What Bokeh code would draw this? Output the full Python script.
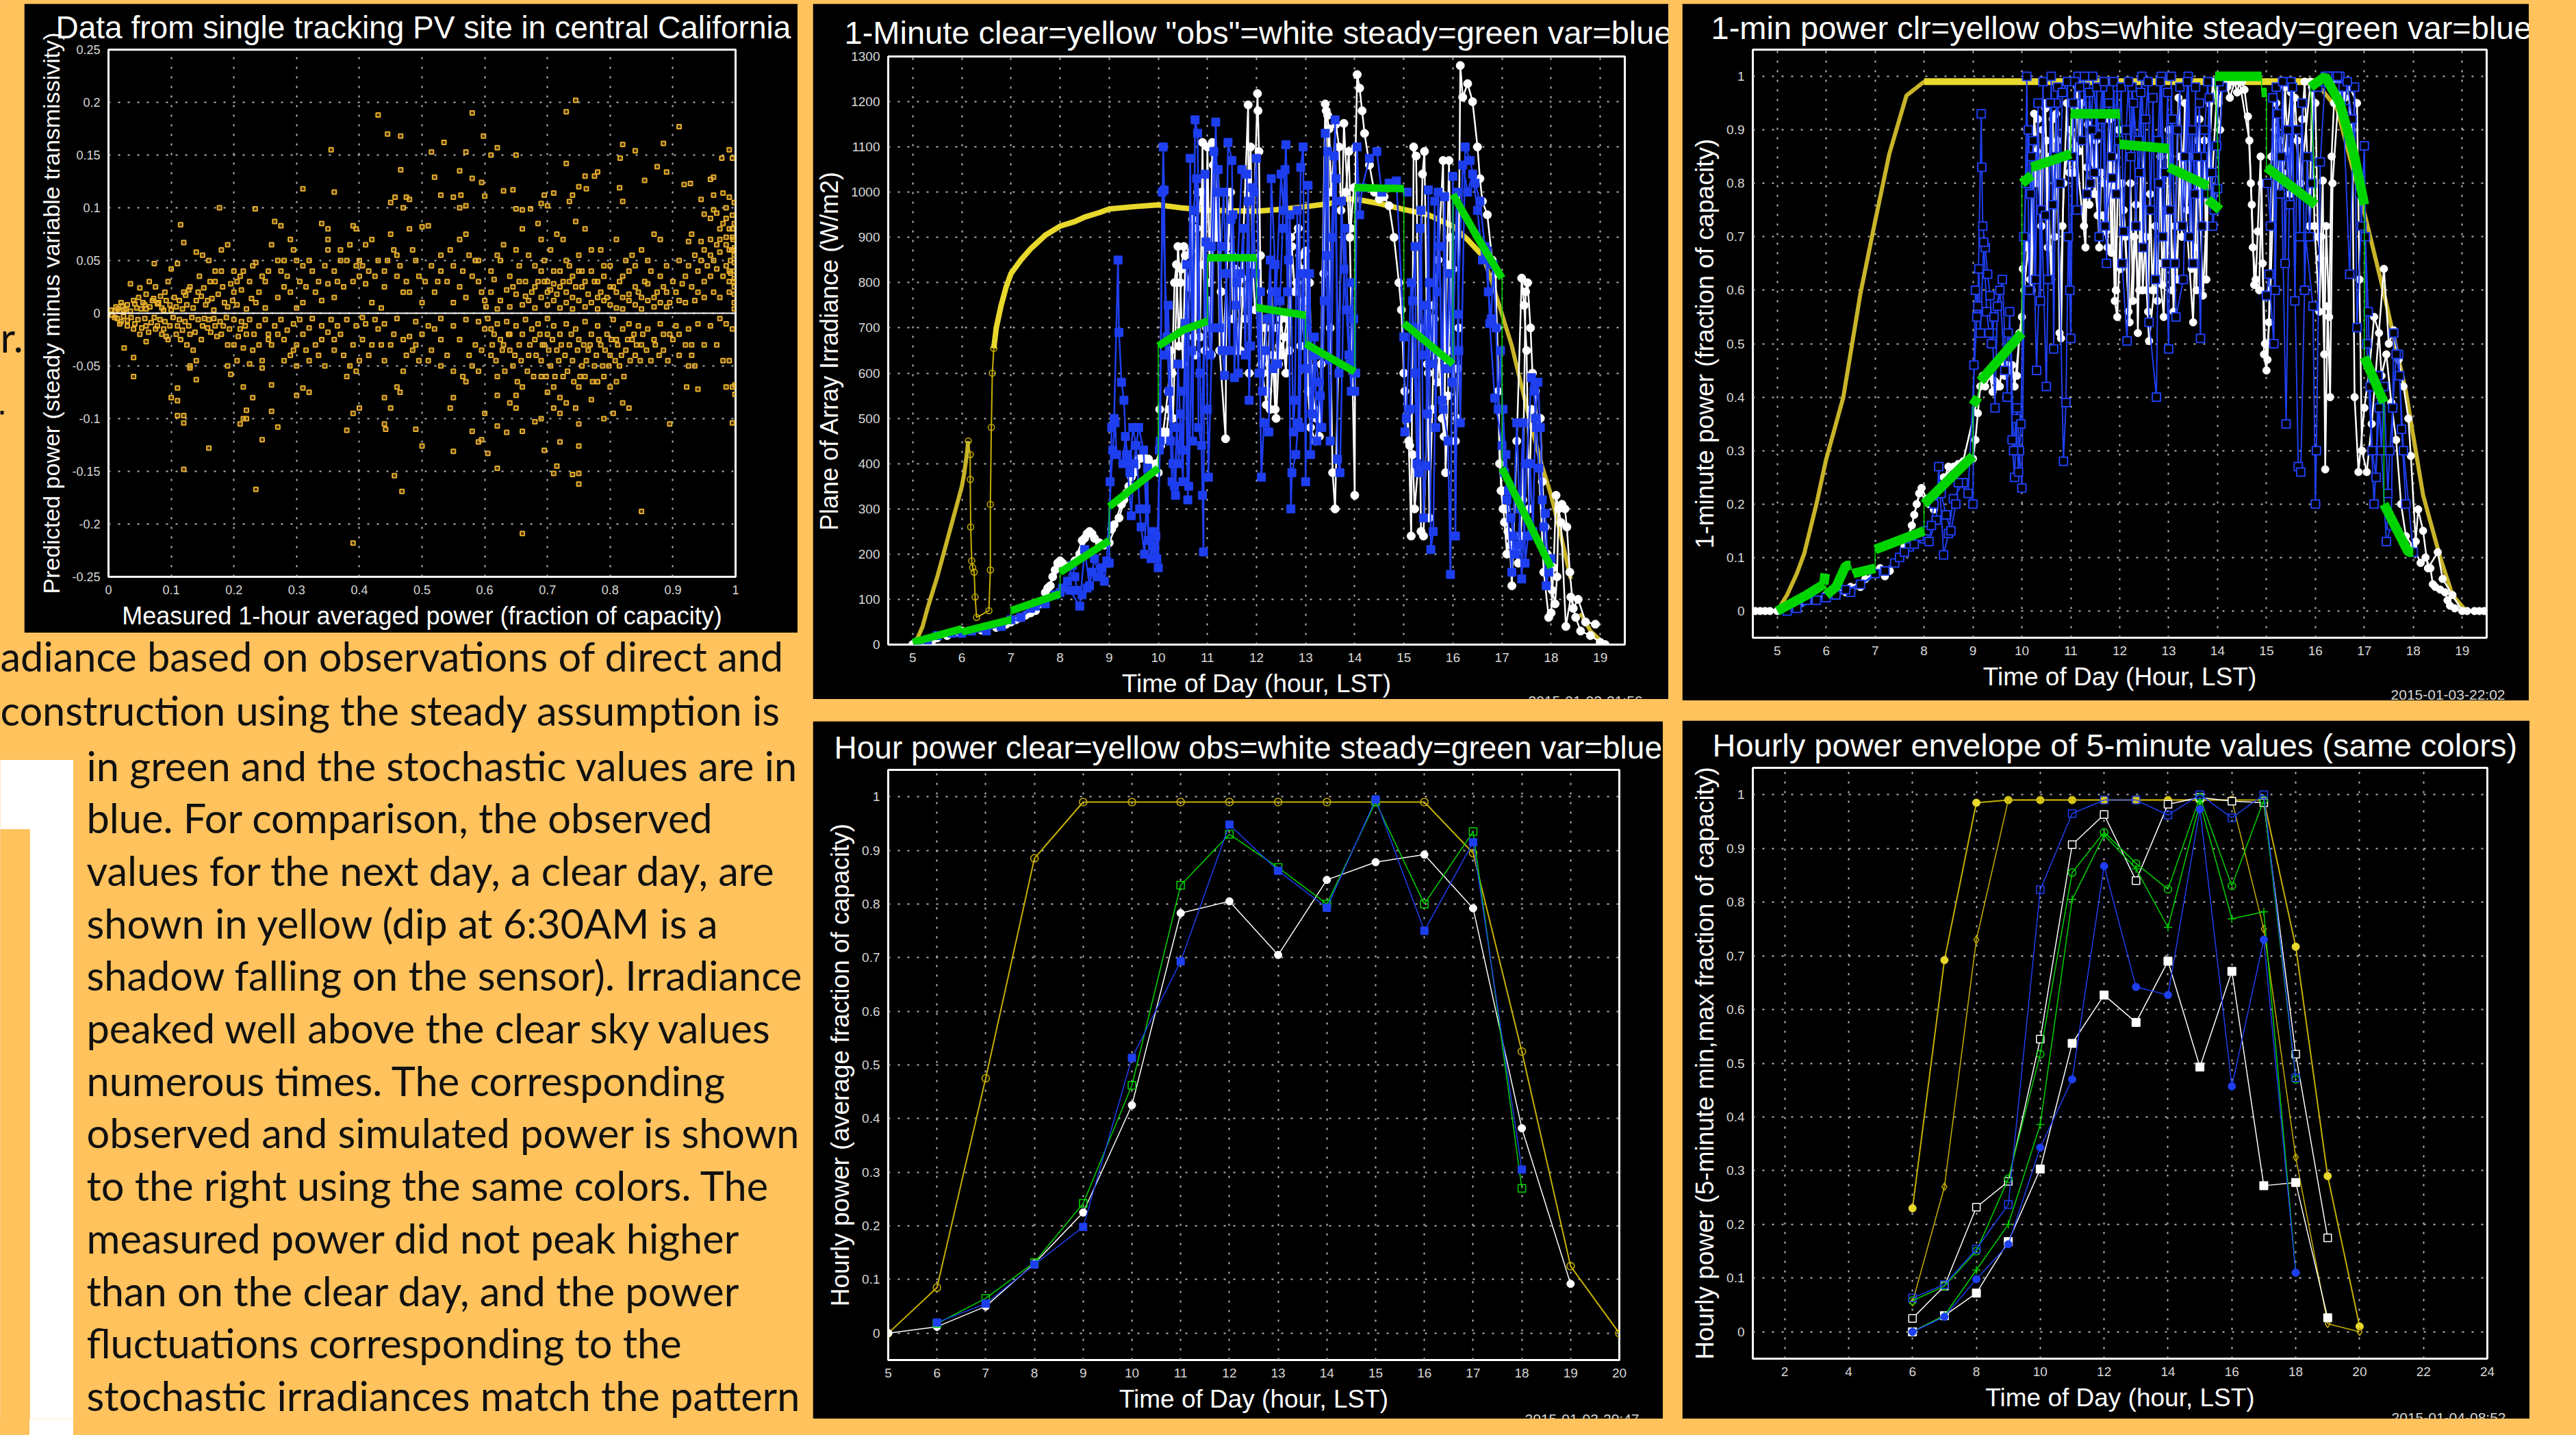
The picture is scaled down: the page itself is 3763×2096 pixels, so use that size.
from bokeh.plotting import figure
from bokeh.layouts import row, column
from bokeh.models import Range1d, FixedTicker, Span, Title
from bokeh.embed import file_html
from bokeh.resources import INLINE
from bokeh.core.properties import value

nan = float("nan")
BG = "#FFC25D"
BLUE = "#1E3FF0"
GREEN = "#00D400"
YEL = "#E8D82C"
YEL2 = "#C8B000"
YEL3 = "#C8B428"
AMB = "#E8AE2C"

# Panel 1 : scatter (measured, steady minus variable)
scatter_pts = [
(0.43,0.188),(0.445,0.17),(0.466,0.168),(0.58,0.19),(0.598,0.168),(0.62,0.157),(0.65,0.15),(0.61,0.15),(0.57,0.153),(0.73,0.191),(0.745,0.202),(0.91,0.177),(0.82,0.16),(0.84,0.154),(0.885,0.161),(0.535,0.162),(0.515,0.153),(0.355,0.155),(0.978,0.147),(0.99,0.155),(0.995,0.147),(0.816,0.147),(0.73,0.142),(0.466,0.136),(0.52,0.129),(0.56,0.135),(0.58,0.128),(0.595,0.124),(0.76,0.13),(0.775,0.13),(0.78,0.134),(0.875,0.139),(0.89,0.134),(0.855,0.126),(0.918,0.122),(0.928,0.123),(0.96,0.127),(0.965,0.129),(0.31,0.118),(0.36,0.115),(0.47,0.1),(0.45,0.105),(0.457,0.11),(0.475,0.11),(0.48,0.108),(0.53,0.112),(0.55,0.11),(0.56,0.1),(0.562,0.112),(0.57,0.102),(0.6,0.111),(0.63,0.116),(0.645,0.117),(0.69,0.104),(0.695,0.112),(0.7,0.102),(0.71,0.114),(0.735,0.106),(0.74,0.112),(0.75,0.12),(0.762,0.118),(0.815,0.119),(0.82,0.106),(0.177,0.1),(0.234,0.099),(0.65,0.099),(0.66,0.098),(0.673,0.099),
(0.98,0.114),(0.965,0.112),(0.945,0.108),(0.99,0.11),(0.998,0.105),(0.985,0.1),(0.965,0.098),(0.95,0.094),(0.96,0.09),(0.97,0.095),(0.985,0.09),(0.995,0.093),(0.99,0.08),(0.998,0.085),(0.975,0.08),(0.96,0.07),(0.945,0.068),(0.93,0.075),(0.925,0.068),(0.97,0.065),(0.985,0.072),(0.995,0.072),(0.95,0.06),(0.96,0.055),(0.975,0.058),(0.99,0.06),(0.998,0.062),(0.998,0.055),(0.998,0.048),(0.998,0.04),(0.998,0.033),(0.998,0.025),(0.998,0.018),(0.998,0.01),(0.998,0.004),(0.992,0.05),(0.992,0.038),(0.99,0.03),(0.99,0.02),(0.985,0.045),(0.98,0.035),(0.97,0.042),(0.96,0.035),(0.95,0.03),(0.94,0.04),(0.93,0.025),(0.92,0.035),(0.91,0.05),(0.965,0.02),(0.975,0.015),(0.95,0.015),(0.935,0.012),(0.92,0.01),(0.905,0.02),(0.985,-0.01),(0.975,-0.005),(0.96,-0.012),(0.94,-0.01),(0.925,-0.015),(0.905,-0.012),(0.995,-0.015),(0.97,-0.03),(0.98,-0.045),(0.99,-0.045),(0.995,-0.07),(0.999,-0.068),(0.999,-0.077),(0.985,-0.07),(0.925,-0.05),(0.935,-0.05),(0.922,-0.07),(0.94,-0.072),(0.91,-0.04),(0.95,-0.03),(0.93,-0.03),(0.895,-0.105),(0.995,-0.104),
(0.035,0.028),(0.05,0.024),(0.06,0.018),(0.065,0.03),(0.075,0.025),(0.09,0.02),(0.095,0.03),(0.1,0.042),(0.11,0.047),(0.115,0.084),(0.12,0.067),(0.14,0.058),(0.15,0.055),(0.16,0.05),(0.17,0.04),(0.18,0.04),(0.18,0.06),(0.19,0.065),(0.17,0.03),(0.145,0.035),(0.13,0.025),(0.12,0.02),(0.105,0.015),(0.08,0.01),(0.07,0.012),(0.055,0.01),(0.04,0.012),(0.03,0.008),(0.02,0.01),(0.015,0.004),(0.01,0.002),(0.025,0.003),(0.045,0.005),(0.06,0.004),(0.085,0.005),(0.1,0.003),(0.125,0.008),(0.14,0.012),(0.155,0.008),(0.165,0.014),(0.185,0.01),(0.2,0.02),(0.21,0.035),(0.215,0.04),(0.195,0.028),(0.073,0.047),(0.225,0.03),(0.235,0.048),(0.24,0.02),(0.25,0.03),(0.255,0.04),(0.26,0.065),(0.265,0.087),(0.275,0.083),(0.28,0.05),(0.29,0.07),(0.295,0.06),(0.3,0.05),(0.31,0.045),(0.32,0.05),(0.34,0.085),(0.35,0.08),(0.35,0.07),(0.35,0.06),(0.37,0.05),(0.37,0.06),(0.385,0.065),(0.39,0.083),(0.395,0.08),(0.4,0.05),(0.405,0.045),(0.41,0.065),(0.42,0.07),(0.43,0.05),(0.45,0.075),(0.455,0.06),(0.46,0.055),(0.48,0.08),(0.485,0.06),(0.5,0.082),(0.51,0.083),(0.53,0.055),(0.545,0.06),(0.56,0.07),(0.57,0.075),(0.575,0.055),(0.59,0.05),
(0.235,0.01),(0.25,0.005),(0.27,0.015),(0.28,0.025),(0.29,0.02),(0.3,0.005),(0.31,0.01),(0.315,0.025),(0.33,0.02),(0.34,0.012),(0.35,0.028),(0.36,0.015),(0.375,0.025),(0.39,0.03),(0.395,0.045),(0.41,0.028),(0.42,0.01),(0.435,0.005),(0.44,0.025),(0.46,0.035),(0.475,0.03),(0.48,0.02),(0.495,0.035),(0.5,0.01),(0.52,0.02),(0.53,0.04),(0.55,0.01),(0.56,0.025),(0.57,0.015),(0.58,0.035),(0.59,0.03),(0.6,0.012),(0.61,0.04),(0.62,0.055),(0.625,0.05),(0.63,0.065),(0.64,0.035),(0.645,0.025),(0.65,0.06),(0.655,0.045),(0.66,0.08),(0.665,0.03),(0.67,0.055),(0.675,0.02),(0.68,0.045),(0.685,0.085),(0.69,0.07),(0.695,0.03),(0.7,0.02),(0.705,0.06),(0.71,0.04),(0.715,0.075),(0.72,0.025),(0.725,0.07),(0.73,0.05),(0.735,0.03),(0.74,0.015),(0.745,0.087),(0.75,0.04),(0.755,0.025),(0.76,0.08),(0.77,0.06),(0.775,0.03),(0.78,0.015),(0.785,0.06),(0.79,0.035),(0.8,0.045),(0.805,0.025),(0.81,0.07),(0.815,0.03),(0.82,0.015),(0.825,0.05),(0.83,0.04),(0.84,0.045),(0.845,0.02),(0.85,0.06),(0.855,0.03),(0.86,0.05),(0.87,0.075),(0.875,0.02),(0.88,0.07),(0.885,0.025),(0.89,0.045),(0.895,0.01),
(0.01,-0.004),(0.02,-0.008),(0.03,-0.012),(0.025,-0.033),(0.04,-0.042),(0.04,-0.06),(0.04,-0.015),(0.05,-0.02),(0.06,-0.012),(0.06,-0.027),(0.075,-0.015),(0.085,-0.02),(0.09,-0.008),(0.095,-0.025),(0.11,-0.012),(0.115,-0.025),(0.125,-0.03),(0.13,-0.02),(0.135,-0.035),(0.14,-0.045),(0.13,-0.05),(0.14,-0.063),(0.13,-0.052),(0.15,-0.012),(0.16,-0.006),(0.17,-0.012),(0.18,-0.02),(0.19,-0.03),(0.19,-0.05),(0.195,-0.058),(0.2,-0.03),(0.21,-0.015),(0.215,-0.033),(0.22,-0.02),(0.23,-0.035),(0.225,-0.048),(0.245,-0.045),(0.245,-0.052),(0.26,-0.03),(0.27,-0.02),(0.26,-0.068),(0.28,-0.045),(0.29,-0.04),(0.3,-0.05),(0.3,-0.03),(0.31,-0.02),(0.315,-0.035),(0.33,-0.03),(0.345,-0.05),(0.35,-0.018),(0.36,-0.035),(0.37,-0.02),(0.38,-0.06),(0.385,-0.05),(0.39,-0.03),(0.4,-0.045),(0.41,-0.01),(0.42,-0.03),(0.43,-0.015),(0.44,-0.045),(0.455,-0.02),(0.47,-0.025),(0.48,-0.022),(0.47,-0.055),(0.46,-0.07),(0.465,-0.075),(0.485,-0.035),(0.5,-0.02),(0.51,-0.045),(0.52,-0.015),(0.53,-0.05),(0.55,-0.055),(0.56,-0.025),(0.565,-0.06),(0.57,-0.065),(0.585,-0.03),(0.6,-0.015),(0.61,-0.04),(0.62,-0.06),(0.63,-0.03),(0.64,-0.02),
(0.605,-0.005),(0.61,-0.015),(0.615,-0.02),(0.62,-0.01),(0.625,-0.025),(0.635,-0.008),(0.64,-0.035),(0.645,-0.05),(0.65,-0.012),(0.655,-0.03),(0.66,-0.02),(0.665,-0.006),(0.67,-0.04),(0.675,-0.015),(0.68,-0.025),(0.685,-0.01),(0.69,-0.045),(0.695,-0.03),(0.7,-0.005),(0.7,-0.02),(0.705,-0.05),(0.71,-0.012),(0.715,-0.035),(0.72,-0.02),(0.725,-0.06),(0.73,-0.01),(0.735,-0.03),(0.74,-0.045),(0.745,-0.015),(0.75,-0.025),(0.755,-0.05),(0.76,-0.008),(0.765,-0.035),(0.77,-0.02),(0.775,-0.05),(0.78,-0.012),(0.785,-0.03),(0.79,-0.06),(0.795,-0.02),(0.8,-0.04),(0.805,-0.006),(0.81,-0.025),(0.815,-0.05),(0.82,-0.015),(0.825,-0.035),(0.83,-0.01),(0.835,-0.025),(0.84,-0.04),(0.845,-0.012),(0.85,-0.03),(0.86,-0.015),(0.87,-0.025),(0.88,-0.01),(0.885,-0.035),(0.895,-0.02),
(0.602,0.006),(0.62,0.004),(0.64,0.006),(0.66,0.008),(0.67,0.012),(0.68,0.005),(0.69,0.015),(0.7,0.008),(0.71,0.012),(0.72,0.005),(0.73,0.01),(0.74,0.004),(0.75,0.012),(0.76,0.006),(0.77,0.01),(0.78,0.004),(0.79,0.012),(0.8,0.008),(0.81,0.005),(0.82,0.004),(0.83,0.012),(0.84,0.008),(0.85,0.004),(0.86,0.012),(0.87,0.006),(0.88,0.01),(0.89,0.006),
(0.69,-0.06),(0.7,-0.075),(0.71,-0.07),(0.72,-0.08),(0.73,-0.085),(0.75,-0.07),(0.76,-0.06),(0.78,-0.065),(0.8,-0.07),(0.81,-0.065),(0.82,-0.085),(0.66,-0.07),(0.65,-0.078),(0.64,-0.085),(0.62,-0.078),(0.6,-0.095),(0.77,-0.082),(0.745,-0.09),(0.71,-0.09),(0.69,-0.1),(0.68,-0.103),(0.65,-0.09),(0.83,-0.09),(0.805,-0.095),(0.79,-0.1),(0.75,-0.105),(0.72,-0.095),(0.58,-0.112),(0.595,-0.12),(0.59,-0.122),(0.62,-0.107),(0.635,-0.113),(0.66,-0.112),(0.605,-0.133),(0.695,-0.13),(0.72,-0.122),(0.75,-0.126),(0.55,-0.131),(0.5,-0.126),(0.49,-0.11),(0.44,-0.105),(0.442,-0.11),(0.38,-0.111),(0.4,-0.09),(0.39,-0.095),(0.45,-0.09),(0.44,-0.08),(0.55,-0.08),(0.545,-0.09),(0.715,-0.145),(0.71,-0.152),(0.74,-0.153),(0.75,-0.152),(0.75,-0.162),(0.62,-0.147),(0.456,-0.154),(0.468,-0.169),(0.235,-0.167),(0.85,-0.188),(0.39,-0.218),(0.66,-0.209),(0.12,-0.148),(0.16,-0.128),(0.245,-0.12),(0.27,-0.108),(0.21,-0.105),(0.215,-0.1),(0.22,-0.1),(0.26,-0.093),(0.22,-0.092),(0.23,-0.08),(0.215,-0.07),(0.3,-0.078),(0.31,-0.071),(0.32,-0.075),(0.1,-0.08),(0.11,-0.071),(0.11,-0.083),(0.11,-0.097),(0.12,-0.104),(0.12,-0.097),
(0.005,0.003),(0.012,0.006),(0.018,0.002),(0.022,0.007),(0.028,0.004),(0.035,0.002),(0.042,0.009),(0.048,0.015),(0.052,0.004),(0.058,0.008),(0.066,0.006),(0.072,0.014),(0.078,0.009),(0.083,0.016),(0.088,0.003),(0.092,0.012),(0.098,0.008),(0.108,0.006),(0.113,0.012),(0.118,0.004),(0.123,0.017),(0.128,0.022),(0.135,0.005),(0.143,0.02),(0.148,0.016),(0.152,0.024),(0.158,0.012),(0.162,0.03),(0.168,0.003),(0.175,0.018),(0.182,0.025),(0.19,0.006),(0.198,0.012),(0.205,0.008),(0.212,0.022),(0.22,0.004),(0.228,0.014),
(0.006,-0.002),(0.014,-0.005),(0.018,-0.01),(0.024,-0.003),(0.03,-0.007),(0.036,-0.004),(0.042,-0.01),(0.047,-0.006),(0.053,-0.014),(0.058,-0.005),(0.064,-0.018),(0.068,-0.009),(0.073,-0.004),(0.078,-0.012),(0.082,-0.006),(0.088,-0.015),(0.092,-0.022),(0.098,-0.012),(0.103,-0.004),(0.108,-0.02),(0.113,-0.006),(0.118,-0.016),(0.122,-0.008),(0.128,-0.012),(0.133,-0.004),(0.138,-0.018),(0.143,-0.006),(0.148,-0.025),(0.153,-0.005),(0.158,-0.014),(0.163,-0.018),(0.168,-0.005),(0.173,-0.022),(0.178,-0.008),(0.183,-0.012),(0.188,-0.004),(0.193,-0.015),(0.2,-0.006),(0.207,-0.022),(0.212,-0.008),(0.218,-0.012),(0.225,-0.006),(0.232,-0.02),(0.24,-0.012),(0.25,-0.006),(0.255,-0.02),(0.265,-0.012),(0.275,-0.006),(0.285,-0.016),(0.295,-0.01),(0.305,-0.006),(0.32,-0.014),(0.325,-0.005),(0.34,-0.012),(0.355,-0.006),(0.365,-0.012),(0.38,-0.006),(0.395,-0.012),(0.405,-0.004),(0.425,-0.006),(0.44,-0.01),(0.46,-0.005),(0.49,-0.008),(0.51,-0.012),(0.53,-0.005),(0.55,-0.012),(0.57,-0.006),(0.59,-0.008),
(0.61,0.02),(0.615,0.032),(0.625,0.012),(0.635,0.022),(0.65,0.018),(0.655,0.03),(0.665,0.016),(0.68,0.025),(0.685,0.03),(0.69,0.04),(0.695,0.05),(0.7,0.03),(0.705,0.022),(0.71,0.028),(0.715,0.018),(0.72,0.04),(0.725,0.03),(0.73,0.02),(0.735,0.045),(0.74,0.035),(0.745,0.025),(0.75,0.055),(0.755,0.04),(0.76,0.03),(0.765,0.018),(0.77,0.04),(0.78,0.03),(0.785,0.02),(0.79,0.045),(0.795,0.015),(0.8,0.025),(0.81,0.02),(0.82,0.035),(0.83,0.018),(0.835,0.055),(0.84,0.025),(0.85,0.015),(0.86,0.028),(0.865,0.04),(0.87,0.015),(0.88,0.035),(0.89,0.02),(0.9,0.03),(0.91,0.012),(0.915,0.028),(0.925,0.045),(0.935,0.055),(0.94,0.02),(0.945,0.05),(0.955,0.045),(0.965,0.05),(0.975,0.07),(0.98,0.085),(0.985,0.065),(0.99,0.04),(0.995,0.08),(0.996,0.03),(0.994,0.06),(0.996,0.07),
(0.612,-0.03),(0.618,-0.045),(0.628,-0.035),(0.632,-0.055),(0.638,-0.02),(0.648,-0.04),(0.652,-0.065),(0.658,-0.045),(0.668,-0.055),(0.672,-0.03),(0.678,-0.06),(0.682,-0.04),(0.688,-0.02),(0.692,-0.03),(0.698,-0.06),(0.702,-0.035),(0.708,-0.025),(0.712,-0.06),(0.718,-0.045),(0.722,-0.03),(0.728,-0.04),(0.732,-0.055),(0.738,-0.02),(0.742,-0.065),(0.748,-0.035),(0.752,-0.06),(0.758,-0.03),(0.762,-0.045),(0.768,-0.03),(0.772,-0.065),(0.778,-0.04),(0.782,-0.025),(0.788,-0.05),(0.792,-0.035),(0.798,-0.05),(0.802,-0.025),(0.808,-0.045),(0.812,-0.03),(0.818,-0.04),(0.822,-0.06),(0.828,-0.025),(0.832,-0.045),(0.838,-0.02),(0.842,-0.03),(0.848,-0.045),(0.852,-0.02),(0.858,-0.035),(0.865,-0.045),(0.872,-0.03),(0.878,-0.04),(0.885,-0.02),(0.892,-0.045),(0.9,-0.025),(0.91,-0.02),(0.92,-0.03),(0.93,-0.04),
(0.2,0.04),(0.205,0.03),(0.23,0.045),(0.245,0.035),(0.27,0.05),(0.275,0.04),(0.285,0.035),(0.305,0.03),(0.325,0.04),(0.335,0.03),(0.345,0.045),(0.36,0.04),(0.365,0.03),(0.38,0.05),(0.4,0.035),(0.415,0.04),(0.425,0.035),(0.44,0.04),(0.445,0.05),(0.465,0.045),(0.47,0.02),(0.49,0.05),(0.505,0.03),(0.515,0.045),(0.525,0.03),(0.54,0.03),(0.55,0.045),(0.565,0.04),(0.585,0.05),(0.595,0.02),
(0.205,-0.045),(0.24,-0.03),(0.255,-0.025),(0.28,-0.025),(0.295,-0.035),(0.32,-0.045),(0.335,-0.04),(0.34,-0.025),(0.36,-0.025),(0.375,-0.04),(0.395,-0.055),(0.405,-0.025),(0.415,-0.04),(0.435,-0.03),(0.45,-0.03),(0.475,-0.04),(0.49,-0.03),(0.495,-0.045),(0.515,-0.035),(0.53,-0.025),(0.54,-0.04),(0.575,-0.04),(0.58,-0.05),(0.59,-0.055),(0.595,-0.035),
]
scatter_x = [p[0] for p in scatter_pts]
scatter_y = [p[1] for p in scatter_pts]

# Panel 2 : 1-minute irradiance (hour, W/m2)
rise2_t = [4.95,5.1,5.2,5.3,5.4,5.5,5.6,5.7,5.8,5.9,6.0,6.05,6.1,6.13]
rise2_v = [0,15,40,80,115,150,190,230,270,310,350,380,420,450]
clear2_t = [6.65,6.7,6.8,6.9,7.0,7.2,7.4,7.5,7.7,8.0,8.3,8.5,8.8,9.0,9.5,10.0,10.5,11.0,12.0,12.5,13.0,13.5,13.8,14.0,14.5,15.0,15.5,16.0,16.3,16.6]
clear2_v = [655,700,750,790,820,850,875,885,905,925,935,945,955,963,968,972,965,960,958,962,968,975,985,985,975,962,950,925,895,860]
fall2_t = [16.6,16.8,17.0,17.2,17.4,17.6,17.8,18.0,18.2,18.4,nan,18.6,18.8,19.0,19.1]
fall2_v = [860,800,730,660,570,480,400,330,240,145,nan,70,30,10,0]
dip2_t = [6.13,6.17,6.17,6.18,6.2,6.22,6.25,6.27,6.3,6.55,6.58,6.58,6.6,6.62,6.65]
dip2_v = [450,420,365,260,185,170,160,105,60,75,165,310,480,600,655]
obs2_t = [5.0,5.5,6.0,6.5,7.0,7.3,7.6,7.8,7.9,8.0,8.2,8.4,8.6,8.8,9.0,9.2,9.4,9.6,9.8,10.0,10.03,10.05,10.1,10.2,10.25,10.3,10.4,10.45,10.5,10.55,10.6,10.7,10.75,10.8,10.85,10.9,10.95,11.0,11.05,11.1,11.15,11.2,11.25,11.37,11.4,11.5,11.6,11.7,11.83,11.85,12.02,12.03,12.05,12.1,12.2,12.3,12.4,12.45,12.5,12.6,12.7,12.85,12.9,13.0,13.05,13.1,13.2,13.3,13.4,13.45,13.5,13.55,13.6,13.78,13.9,14.0,14.02,14.05,14.1,14.15,14.2,14.3,14.4,14.5,14.6,14.7,14.8,14.9,14.95,15.0,15.1,15.15,15.2,15.25,15.3,15.35,15.4,15.5,15.6,15.7,15.8,15.85,15.9,15.95,16.0,16.05,16.1,16.15,16.2,16.3,16.4,16.5,16.55,16.6,16.7,16.8,16.9,16.95,17.0,17.05,17.1,17.15,17.2,17.3,17.4,17.45,17.5,17.55,17.6,17.7,17.75,17.85,17.95,18.0,18.05,18.1,18.2,18.3,18.4,18.5,18.6,18.8,19.0,19.1]
obs2_v = [0,15,30,35,50,65,90,130,165,185,175,200,250,225,225,280,350,410,410,380,520,440,470,560,650,500,880,800,620,860,700,940,640,1000,680,1110,650,1100,800,1110,900,1050,650,455,1000,860,650,810,1193,600,1218,1180,1090,620,530,780,500,620,720,600,900,920,660,870,560,480,450,550,1195,1170,700,380,300,1152,900,330,1100,1260,1230,1180,1130,1060,1000,985,990,970,900,800,740,600,450,240,1100,1080,690,250,240,600,750,850,1070,380,550,900,830,450,610,1280,1210,1240,1200,1100,1030,980,950,850,700,400,340,270,200,240,130,450,810,750,650,300,520,480,390,160,60,70,170,330,270,40,105,60,30,20,5,0]
obs2b_t = [5.2,5.4,5.7,5.9,6.2,6.4,6.7,6.9,7.1,7.2,7.4,7.5,7.6,7.7,7.75,7.85,7.95,8.05,8.1,8.3,8.45,8.5,8.55,8.65,8.7,8.9,9.05,9.1,9.25,9.3,9.35,9.45,9.5,9.55,9.65,9.7,9.75,9.85,9.9,9.95,10.08,10.13,10.17,10.22,10.28,10.33,10.37,10.42,10.47,10.52,10.62,10.67,10.72,10.78,10.88,10.92,10.98,11.02,11.08,11.12,11.18,11.22,11.28,11.32,11.42,11.47,11.52,11.57,11.62,11.67,11.72,11.77,11.88,11.92,11.97,12.08,12.13,12.18,12.23,12.28,12.33,12.38,12.42,12.47,12.52,12.57,12.62,12.67,12.72,12.78,12.82,12.88,12.92,12.97,13.02,13.08,13.12,13.18,13.22,13.28,13.32,13.37,13.42,13.48,13.52,13.62,13.68,13.72,13.82,13.88,13.92,13.98,nan,15.02,15.08,15.12,15.18,15.22,15.28,15.32,15.38,15.42,15.48,15.52,15.58,15.62,15.68,15.72,15.78,15.82,15.88,15.92,15.98,16.02,16.08,16.12,nan,16.82,16.87,16.92,16.98,17.02,17.08,17.12,17.18,17.22,17.27,17.33,17.38,17.42,17.48,17.52,17.58,17.62,17.68,17.72,17.78,17.82,17.88,17.92,17.98,18.02,18.08,18.12,18.15,18.22,18.28,18.32,18.38,18.45,18.55,18.7,18.9]
obs2b_v = [5,10,20,28,30,32,38,45,55,60,70,75,95,115,125,150,180,180,170,185,230,235,245,245,235,220,255,265,310,320,335,370,380,395,412,415,410,400,390,400,450,460,470,520,600,800,840,660,830,880,790,870,680,920,1000,840,700,760,640,1060,900,1050,780,650,880,1000,720,830,800,650,780,720,1100,840,740,860,600,700,560,520,640,520,700,660,640,680,720,650,880,780,800,860,830,760,700,800,610,520,500,460,620,820,1180,1140,1000,1150,1100,960,1000,1090,920,1010,nan,560,500,440,420,300,380,700,1040,1090,620,280,520,720,580,640,500,460,840,1070,650,580,500,700,1030,nan,820,560,340,300,300,250,220,200,210,180,240,320,780,800,700,600,560,480,500,360,260,200,180,120,90,150,300,310,300,260,160,80,100,50,45,25]
var2_t = [5.1,5.5,6,6.5,7,7.4,7.7,8,8.2,8.4,8.5,8.6,8.7,8.8,9,9.02,9.05,9.1,9.18,9.2,9.25,9.3,9.35,9.45,9.5,9.6,9.7,9.75,9.85,9.9,9.95,10.0,10.02,10.1,10.12,10.15,10.2,10.3,10.35,10.4,10.5,10.55,10.6,10.65,10.7,10.75,10.8,10.85,10.9,10.92,10.95,11.0,11.02,11.1,11.17,11.2,11.3,11.35,11.42,11.5,11.55,11.6,11.7,11.8,11.85,11.95,12.0,12.1,12.15,12.25,12.3,12.4,12.5,12.55,12.6,12.65,12.7,12.72,12.8,12.85,12.9,12.95,13.0,13.05,13.1,13.2,13.3,13.4,13.42,13.5,13.6,13.62,13.65,13.7,13.8,13.9,13.95,14.0,14.05,14.1,14.15,14.3,14.45,14.55,14.7,14.85,15.0,15.02,15.05,15.15,15.2,15.27,15.35,15.4,15.45,15.5,15.55,15.6,15.7,15.8,15.9,15.95,16.0,16.05,16.1,16.2,16.3,16.4,16.5,16.6,16.7,16.75,16.85,17.0,17.02,17.1,17.2,17.3,17.4,17.5,17.6,17.65,17.7,17.75,17.85,17.9,18.0]
var2_v = [5,20,25,30,55,80,90,115,120,85,210,130,190,150,180,360,480,500,850,690,580,540,420,285,400,480,430,300,190,250,240,170,430,1100,1005,640,750,400,330,620,360,710,320,1075,450,1160,1130,600,330,205,1040,520,370,700,1155,1000,650,595,1110,1070,590,800,1050,1040,540,1000,1075,370,490,470,1030,780,1040,960,1105,850,300,380,420,490,1055,1100,360,1015,420,640,550,1130,860,450,1160,1030,410,380,920,620,800,560,1100,950,1010,1075,1090,1000,1020,1025,680,470,500,800,700,400,960,280,395,1005,210,250,1000,520,450,155,1035,240,730,1060,1000,1040,960,850,870,710,545,440,520,320,160,490,145,400,590,560,480,390,260,130,190]
var2b_t = [5.3,5.8,6.2,6.8,7.2,7.5,7.9,8.05,8.15,8.25,8.3,8.35,8.45,8.55,8.65,8.75,8.85,8.9,8.95,9.07,9.12,9.15,9.28,9.33,9.38,9.42,9.48,9.55,9.62,9.65,9.72,9.78,9.8,9.88,9.92,9.97,10.04,10.08,10.18,10.22,10.25,10.28,10.33,10.38,10.42,10.45,10.48,10.52,10.58,10.62,10.68,10.72,10.78,10.82,10.88,10.97,11.05,11.08,11.13,11.22,11.25,11.28,11.33,11.38,11.45,11.48,11.52,11.58,11.63,11.67,11.73,11.77,11.83,11.88,11.92,11.98,12.05,12.08,12.12,12.18,12.22,12.28,12.33,12.38,12.43,12.48,12.53,12.58,12.63,12.68,12.75,12.78,12.83,12.88,12.93,12.98,13.03,13.08,13.13,13.18,13.23,13.28,13.33,13.38,13.45,13.48,13.53,13.58,13.68,13.73,13.78,13.83,13.88,13.93,13.98,14.02,nan,15.07,15.1,15.13,15.18,15.23,15.25,15.3,15.33,15.38,15.43,15.48,15.52,15.58,15.63,15.65,15.68,15.73,15.78,15.83,15.88,15.93,15.98,16.08,16.12,16.15,16.25,16.35,16.45,16.55,16.65,16.72,16.78,16.82,16.88,16.92,16.97,17.05,17.08,17.13,17.18,17.23,17.27,17.33,17.37,17.43,17.47,17.53,17.57,17.63,17.68,17.73,17.78,17.82,17.88,17.95]
var2b_v = [10,25,30,40,60,85,110,125,140,175,150,120,110,125,160,150,170,140,185,430,490,420,400,460,410,380,480,440,300,260,200,390,230,220,210,190,450,1000,680,560,450,360,350,480,400,510,430,560,840,350,650,960,1030,480,440,890,640,880,1090,1050,700,880,1000,820,650,940,950,750,600,820,920,640,980,660,1010,820,600,780,560,650,720,850,610,840,620,760,920,1050,780,950,470,540,960,480,820,610,700,820,510,680,450,580,480,760,1090,630,900,1080,600,980,830,740,640,560,720,600,640,1000,nan,520,760,880,600,380,920,640,750,510,800,620,980,480,780,880,540,990,610,820,580,1000,650,490,1100,1070,1020,980,880,780,720,840,700,520,650,380,420,340,280,240,200,220,300,490,180,240,400,250,500,580,480,320,290,160,240]
steady2_t = [[5,6],[6,7],[7,8],[8,9],[9,10],[10,10.5,11],[11,12],[12,13],[13,14],[14,15],[15,16],[16,16.5,17],[17,18]]
steady2_v = [[5,35],[28,55],[75,112],[160,230],[305,390],[660,695,715],[855,855],[745,728],[665,603],[1010,1008],[710,620],[995,900,810],[390,170]]

# Panel 3 : 1-minute power (hour, fraction)
rise3_t = [5.0,5.2,5.4,5.55,5.8,6.0,6.35,6.7,7.0,7.29,7.64,8.0]
rise3_v = [0,0.03,0.07,0.107,0.2,0.284,0.40,0.594,0.729,0.855,0.964,0.99]
flat3_t = [8.0,9,10,11,12,13,14,15,16]
flat3_v = [0.99,0.99,0.99,0.99,0.99,0.99,0.99,0.99,0.99]
fall3_t = [16,16.44,17,17.4,17.85,18.2,18.55,18.8,19.08]
fall3_v = [0.99,0.94,0.745,0.595,0.41,0.217,0.1,0.03,0]
obs3_t = [4.55,4.65,4.75,4.85,5,5.5,6,6.5,7,7.3,7.6,7.75,7.85,7.95,8.1,8.3,8.5,8.7,9,9.05,9.1,9.15,9.3,9.5,9.7,9.9,9.95,10,10.02,10.1,10.2,10.25,10.3,10.4,10.45,10.5,10.6,10.7,10.8,10.85,11,11.1,11.3,11.35,11.45,11.55,11.65,11.75,11.8,11.9,11.95,12.05,12.2,12.3,12.4,12.5,12.55,12.6,12.7,12.8,12.9,13,13.1,13.2,13.5,13.6,13.7,13.9,14.05,14.1,14.3,14.5,14.55,14.62,14.7,14.75,14.85,14.9,14.95,15,15.05,15.1,15.2,15.3,15.5,15.7,15.9,16,16.05,16.1,16.15,16.2,16.25,16.3,16.35,16.5,16.7,16.85,16.9,16.95,17.05,17.15,17.4,17.5,17.6,17.7,17.8,17.9,17.95,18.05,18.1,18.2,18.3,18.5,18.6,18.8,19,19.1,19.25,19.35,19.45]
obs3_v = [0,0,0,0,0,0.015,0.03,0.045,0.07,0.075,0.12,0.16,0.2,0.23,0.2,0.22,0.27,0.275,0.285,0.32,0.37,0.42,0.44,0.42,0.46,0.44,0.52,0.55,0.64,0.7,0.6,0.93,0.86,0.72,0.95,0.88,0.62,0.93,0.51,0.8,0.9,0.87,0.68,0.91,0.84,0.74,0.74,0.68,0.92,0.58,0.55,0.8,0.54,0.7,0.6,0.87,0.6,0.505,0.6,0.65,0.55,0.9,0.56,0.96,0.54,0.88,0.59,0.99,0.9,0.99,0.99,0.99,0.975,0.925,0.76,0.61,0.6,0.8,0.48,0.45,0.54,0.85,0.95,0.78,0.97,0.8,0.99,0.95,0.7,0.66,0.805,0.265,0.57,0.4,0.8,1.0,0.98,0.95,0.62,0.3,0.26,0.35,0.64,0.5,0.525,0.47,0.42,0.36,0.29,0.13,0.19,0.15,0.08,0.11,0.06,0.03,0,0,0,0,0]
obs3b_t = [5.2,5.7,6.2,6.4,6.7,6.8,7.1,7.2,7.4,7.5,7.7,7.8,7.9,8.05,8.2,8.4,8.6,8.8,9.2,9.25,9.35,9.4,9.45,9.55,9.6,9.65,9.75,9.8,9.85,10.05,10.12,10.17,10.22,10.28,10.33,10.37,10.42,10.48,10.53,10.57,10.63,10.67,10.73,10.77,10.83,10.88,10.92,10.97,11.03,11.07,11.13,11.17,11.22,11.27,11.33,11.38,11.42,11.48,11.52,11.58,11.62,11.68,11.72,11.78,11.83,11.88,11.92,11.98,12.02,12.08,12.12,12.18,12.22,12.27,12.33,12.37,12.43,12.47,12.53,12.58,12.62,12.67,12.73,12.77,12.83,12.87,12.93,12.97,13.03,13.07,13.13,13.17,13.23,13.27,13.33,13.37,13.43,13.47,13.53,13.57,13.63,13.67,13.73,13.77,13.83,13.87,14.0,14.02,14.15,14.2,14.25,14.35,14.4,14.45,14.65,14.68,14.72,14.78,14.82,14.88,14.92,14.97,15.02,15.08,15.12,15.18,15.22,15.28,15.33,15.38,15.43,15.48,15.53,15.58,15.63,15.68,15.73,15.78,15.83,15.88,15.93,15.98,16.08,16.12,16.18,16.22,16.28,16.33,16.38,16.43,16.55,16.6,16.65,16.75,16.8,16.88,17,17.1,17.2,17.3,17.35,17.45,17.55,17.65,17.75,17.85,18,18.15,18.25,18.35,18.4,18.45,18.55,18.65,18.7,18.75,18.85,18.9,18.95]
obs3b_v = [0.005,0.02,0.03,0.035,0.045,0.06,0.08,0.065,0.09,0.1,0.14,0.18,0.22,0.21,0.19,0.25,0.27,0.28,0.44,0.42,0.44,0.41,0.43,0.42,0.47,0.44,0.45,0.46,0.42,0.6,0.68,0.62,0.85,0.8,0.92,0.75,0.9,0.94,0.68,0.85,0.92,0.7,0.88,0.52,0.72,0.85,0.95,0.82,0.95,0.82,0.98,0.86,0.95,0.72,0.83,0.76,0.9,0.78,0.88,0.68,0.82,0.8,0.71,0.92,0.67,0.85,0.6,0.9,0.64,0.75,0.7,0.56,0.8,0.58,0.76,0.52,0.82,0.6,0.7,0.56,0.78,0.6,0.72,0.58,0.85,0.61,0.75,0.65,0.85,0.6,0.72,0.62,0.85,0.7,0.95,0.75,0.85,0.64,0.68,0.6,0.92,0.72,0.88,0.62,0.95,0.78,0.99,0.95,1,0.98,0.96,0.99,0.97,0.99,0.88,0.8,0.68,0.62,0.71,0.85,0.65,0.5,0.47,0.6,0.72,0.9,0.78,0.88,0.82,0.98,0.86,0.78,0.9,0.96,0.88,0.8,0.92,0.99,0.85,0.72,0.98,0.72,0.56,0.7,0.48,0.72,0.55,0.85,0.95,0.99,0.97,0.96,0.99,0.9,0.4,0.26,0.38,0.45,0.55,0.52,0.44,0.48,0.39,0.32,0.2,0.14,0.12,0.09,0.1,0.08,0.05,0.045,0.04,0.035,0.02,0.01,0.005]
var3_t = [5.2,5.6,6,6.5,7,7.4,7.7,8,8.1,8.25,8.3,8.4,8.5,8.6,8.8,9,9.02,9.05,9.1,9.17,9.18,9.2,9.25,9.3,9.35,9.4,9.45,9.5,9.6,9.7,9.75,9.8,9.85,9.9,9.95,10,10.1,10.15,10.2,10.3,10.4,10.5,10.6,10.65,10.7,10.85,10.9,10.95,11,11.05,11.15,11.3,11.4,11.45,11.55,11.65,11.7,11.85,11.95,12.05,12.15,12.25,12.4,12.45,12.6,12.75,12.8,12.85,12.95,13,13.05,13.15,13.3,13.4,13.5,13.55,13.65,13.7,13.8,13.9,14,14.1,nan,15,15.05,15.15,15.2,15.3,15.4,15.5,15.65,15.7,15.8,15.95,16,16.02,16.1,16.2,16.35,16.5,16.55,16.7,16.8,16.85,17,17.05,17.2,17.3,17.45,17.55,17.6,17.7,17.8,18]
var3_v = [0,0.02,0.025,0.035,0.07,0.09,0.12,0.135,0.13,0.17,0.27,0.105,0.145,0.21,0.24,0.2,0.46,0.6,0.57,0.93,0.83,0.72,0.68,0.63,0.59,0.52,0.38,0.57,0.62,0.4,0.56,0.32,0.25,0.38,0.3,0.23,1,0.6,0.85,0.45,0.75,0.42,1,0.49,0.95,0.28,0.39,0.7,0.51,0.95,1,0.98,0.8,1,0.89,0.98,0.72,0.81,0.98,0.65,0.505,0.98,0.82,1,0.54,0.4,0.8,1,0.65,0.49,1,0.55,0.62,1,0.65,0.98,0.51,0.85,0.99,0.72,0.79,0.98,nan,0.59,0.63,0.5,0.98,0.85,0.35,0.99,0.27,0.26,0.7,0.57,0.2,0.3,0.84,1,1,1,0.98,0.63,0.98,0.53,0.87,0.5,0.2,0.38,0.13,0.16,0.52,0.48,0.3,0.11]
var3b_t = [5.4,5.8,6.2,6.4,6.7,7.2,7.5,7.6,7.8,7.9,8.05,8.15,8.2,8.35,8.45,8.55,8.65,8.7,8.9,9.08,9.12,9.15,9.22,9.28,9.33,9.38,9.43,9.55,9.65,9.72,9.78,9.83,9.88,9.93,9.98,10.04,10.08,10.13,10.18,10.23,10.28,10.33,10.38,10.43,10.48,10.53,10.58,10.63,10.68,10.73,10.78,10.83,10.93,10.98,11.03,11.08,11.13,11.18,11.23,11.28,11.33,11.38,11.43,11.48,11.53,11.58,11.63,11.68,11.73,11.78,11.83,11.88,11.93,11.98,12.03,12.08,12.13,12.18,12.23,12.28,12.33,12.38,12.43,12.48,12.53,12.58,12.63,12.68,12.73,12.78,12.83,12.88,12.93,12.98,13.03,13.08,13.13,13.18,13.23,13.28,13.33,13.38,13.43,13.48,13.53,13.58,13.63,13.68,13.73,13.78,13.83,13.88,13.93,13.98,14.03,nan,15.02,15.08,15.13,15.18,15.23,15.28,15.33,15.38,15.43,15.48,15.53,15.58,15.63,15.68,15.73,15.78,15.83,15.88,15.93,15.98,16.05,16.15,16.25,16.4,16.45,16.6,16.65,16.75,16.9,16.95,17.02,17.08,17.12,17.16,17.24,17.28,17.35,17.4,17.48,17.52,17.58,17.65,17.72,17.76,17.85]
var3b_v = [0.005,0.02,0.03,0.04,0.05,0.075,0.1,0.11,0.125,0.14,0.15,0.16,0.2,0.22,0.18,0.15,0.2,0.24,0.22,0.55,0.64,0.52,0.69,0.56,0.52,0.5,0.55,0.6,0.45,0.52,0.5,0.3,0.36,0.26,0.35,0.7,0.8,0.9,0.78,0.88,0.62,0.95,0.58,0.99,0.74,0.62,0.95,0.76,0.85,0.98,0.8,0.97,0.99,0.6,0.85,0.99,0.75,0.98,0.88,1,0.78,0.97,0.9,0.82,0.98,0.7,0.92,0.99,0.65,0.95,0.85,0.99,0.78,0.88,0.98,0.71,0.9,0.99,0.85,0.95,0.72,0.88,0.97,0.68,0.92,0.99,0.75,0.96,0.62,0.88,0.99,0.7,0.82,0.97,0.75,0.92,0.65,0.9,0.98,0.72,0.85,0.99,0.7,0.9,0.78,0.85,0.95,0.72,0.9,0.78,0.96,0.82,0.75,0.87,0.99,nan,0.8,0.72,0.96,0.6,0.93,0.78,0.99,0.65,0.9,0.76,0.98,0.58,0.9,0.7,0.95,0.6,0.85,0.7,0.8,0.98,0.98,0.99,1,0.98,1,0.94,0.99,0.92,0.78,0.72,0.7,0.56,0.42,0.3,0.25,0.44,0.3,0.42,0.22,0.3,0.38,0.48,0.44,0.34,0.2]
steady3_t = [[5,5.6,5.95],[5.95,5.98],[6,6.2,6.4,6.5],[6.55,7],[7,8],[8,9],[9.0,9.1],[9.15,10],[10,10.2],[10.2,11],[11,12],[12,13],[13,13.8],[13.8,14.05],[13.95,14.9],[14.9,15],[15,16],[15.9,16.2,16.5,16.8,17],[17,17.4],[17.4,17.9,18]]
steady3_v = [[0,0.03,0.05],[0.05,0.07],[0.03,0.045,0.085,0.085],[0.07,0.08],[0.115,0.15],[0.2,0.29],[0.385,0.4],[0.43,0.52],[0.8,0.815],[0.83,0.855],[0.93,0.93],[0.873,0.865],[0.83,0.795],[0.77,0.75],[1,1],[0.97,0.97],[0.83,0.76],[0.98,1.0,0.95,0.85,0.76],[0.475,0.39],[0.2,0.11,0.11]]

# Panel 4 : hourly power
hour_clear_t = [5,6,7,8,9,10,11,12,13,14,15,16,17,18,19,20]
hour_clear = [0,0.085,0.475,0.885,0.99,0.99,0.99,0.99,0.99,0.99,0.99,0.99,0.895,0.525,0.125,0]
hour_obs_t = [5,6,7,8,9,10,11,12,13,14,15,16,17,18,19]
hour_obs = [0,0.012,0.05,0.13,0.225,0.425,0.783,0.805,0.705,0.845,0.878,0.892,0.792,0.382,0.092]
hour_model_t = [6,7,8,9,10,11,12,13,14,15,16,17,18]
hour_steady = [0.018,0.065,0.132,0.242,0.462,0.835,0.93,0.868,0.80,0.99,0.80,0.935,0.27]
hour_var = [0.02,0.055,0.128,0.198,0.513,0.693,0.948,0.862,0.793,0.995,0.75,0.915,0.305]

# Panel 5 : hourly envelope of 5-minute values
env_clear_t = [6,7,8,9,10,11,12,13,14,15,16,17,18,19,20]
env_clear_max = [0.23,0.692,0.985,0.99,0.99,0.99,0.99,0.99,0.99,0.99,0.99,0.99,0.717,0.29,0.01]
env_clear_min = [0.055,0.27,0.73,0.99,0.99,0.99,0.99,0.99,0.99,0.99,0.99,0.75,0.325,0.015,0]
env_obs_t = [6,7,8,9,10,11,12,13,14,15,16,17,18,19]
env_obs_max = [0.025,0.085,0.232,0.28,0.545,0.907,0.963,0.84,0.982,0.995,0.988,0.985,0.517,0.175]
env_obs_min = [0,0.03,0.072,0.168,0.303,0.537,0.627,0.576,0.69,0.493,0.671,0.272,0.278,0.026]
env_model_t = [6,7,8,9,10,11,12,13,14,15,16,17,18]
env_var_max = [0.063,0.088,0.154,0.237,0.823,0.965,0.99,0.99,0.962,1,0.957,1,0.473]
env_var_min = [0,0.028,0.098,0.163,0.343,0.47,0.867,0.642,0.627,0.973,0.457,0.73,0.11]
env_steady_max = [0.058,0.085,0.15,0.285,0.517,0.855,0.93,0.872,0.824,0.995,0.83,0.99,0.47]
env_steady_min = [0,0.03,0.115,0.2,0.386,0.805,0.925,0.862,0.753,0.985,0.769,0.782,0.11]

# Texts
titles = ["Data from single tracking PV site in central California",
          '1-Minute clear=yellow "obs"=white steady=green var=blue',
          "1-min power clr=yellow obs=white steady=green var=blue",
          "Hour power clear=yellow obs=white steady=green var=blue",
          "Hourly power envelope of 5-minute values (same colors)"]
upper_lines = ["adiance based on observations of direct and", "construction using the steady assumption is"]
body_lines = ["in green and the stochastic values are in",
 "blue. For comparison, the observed",
 "values for the next day, a clear day, are",
 "shown in yellow (dip at 6:30AM is a",
 "shadow falling on the sensor). Irradiance",
 "peaked well above the clear sky values",
 "numerous times. The corresponding",
 "observed and simulated power is shown",
 "to the right using the same colors. The",
 "measured power did not peak higher",
 "than on the clear day, and the power",
 "fluctuations corresponding to the",
 "stochastic irradiances match the pattern"]
last_line = "of measured power fluctuations."

frac_ticks = [0,0.1,0.2,0.3,0.4,0.5,0.6,0.7,0.8,0.9,1]
frac_labels = ["0","0.1","0.2","0.3","0.4","0.5","0.6","0.7","0.8","0.9","1"]
TXT_FONT = "Lato"
PF = "Liberation Sans"


def panel(w, h, l, r, t, b, xr, yr, xt, xl, yt, yl, xlabel, ylabel, title, tx, ts, stamp, sr, ss, margin,
          xlab=37, ylab=37, tick=19, tfs=47):
    p = figure(width=w, height=h, x_range=Range1d(*xr), y_range=Range1d(*yr), output_backend="svg",
               toolbar_location=None, background_fill_color="black", border_fill_color="black",
               min_border_left=l, min_border_right=r, min_border_top=t, min_border_bottom=b, margin=margin)
    p.xaxis.ticker = FixedTicker(ticks=xt)
    p.yaxis.ticker = FixedTicker(ticks=yt)
    p.xaxis.major_label_overrides = dict(zip(xt, xl))
    p.yaxis.major_label_overrides = dict(zip(yt, yl))
    p.xaxis.axis_label = xlabel
    p.yaxis.axis_label = ylabel
    for a in (p.xaxis[0], p.yaxis[0]):
        a.axis_line_color = None
        a.major_tick_line_color = None
        a.minor_tick_line_color = None
        a.major_label_text_color = "#d8d8d8"
        a.major_label_text_font = PF
        a.major_label_text_font_size = f"{tick}px"
        a.axis_label_text_color = "white"
        a.axis_label_text_font = PF
        a.axis_label_text_font_style = "normal"
        a.major_label_standoff = 6
        a.axis_label_standoff = 8
    p.xaxis[0].axis_label_text_font_size = f"{xlab}px"
    p.yaxis[0].axis_label_text_font_size = f"{ylab}px"
    p.grid.grid_line_color = "#b8b8b8"
    p.grid.grid_line_dash = "3 11"
    p.grid.grid_line_width = 2
    p.outline_line_color = "white"
    p.outline_line_width = 3
    p.add_layout(Title(text=title, align="left", offset=tx - l, standoff=ts, text_color="white", text_font=PF,
                       text_font_style="normal", text_font_size=f"{tfs}px"), "above")
    if stamp:
        p.add_layout(Title(text=stamp, align="right", offset=sr, standoff=ss, text_color="#d8d8d8", text_font=PF,
                           text_font_style="normal", text_font_size="21px"), "below")
    return p


# ---------- panel 1
s_yt = [-0.25,-0.2,-0.15,-0.1,-0.05,0,0.05,0.1,0.15,0.2,0.25]
s_yl = ["-0.25","-0.2","-0.15","-0.1","-0.05","0","0.05","0.1","0.15","0.2","0.25"]
p1 = panel(1130, 919, 123, 91, 64, 82, (0, 1), (-0.25, 0.25), frac_ticks, frac_labels, s_yt, s_yl,
           "Measured 1-hour averaged power (fraction of capacity)",
           "Predicted power (steady minus variable transmissivity)", titles[0], 46, 13, None, 0, 0, (5, 22, 0, 0),
           xlab=36, ylab=34, tick=18, tfs=46)
p1.scatter(scatter_x, scatter_y, marker="square", size=6, fill_color=AMB, fill_alpha=0.3, line_color=AMB, line_width=2)
p1.add_layout(Span(location=0, dimension="width", line_color="white", line_width=2))

# ---------- panel 2
hours2 = list(range(5, 20))
p2 = panel(1250, 1016, 110, 63, 77, 71, (4.5, 19.5), (0, 1300), hours2, [str(v) for v in hours2],
           list(range(0, 1301, 100)), [str(v) for v in range(0, 1301, 100)],
           "Time of Day (hour, LST)", "Plane of Array Irradiance (W/m2)", titles[1], 46, 17,
           "2015-01-03-21:56", -26, -26, (5, 20, 0, 0), ylab=36)
p2.line(dip2_t, dip2_v, color=YEL2, line_width=2)
p2.scatter(dip2_t, dip2_v, marker="circle", size=9, fill_alpha=0, line_color=YEL2, line_width=1.5)
p2.line(rise2_t, rise2_v, color=YEL3, line_width=6)
p2.line(fall2_t, fall2_v, color=YEL3, line_width=6)
p2.line(clear2_t, clear2_v, color=YEL, line_width=8)
p2.line(obs2_t, obs2_v, color="white", line_width=2.5)
p2.line(obs2b_t, obs2b_v, color="white", line_width=2.5)
p2.scatter(obs2_t, obs2_v, marker="circle", size=12, color="white")
p2.scatter(obs2b_t, obs2b_v, marker="circle", size=12, color="white")
p2.line(var2_t, var2_v, color=BLUE, line_width=2.5)
p2.line(var2b_t, var2b_v, color=BLUE, line_width=2.5)
p2.scatter(var2_t, var2_v, marker="square", size=12, color=BLUE)
p2.scatter(var2b_t, var2b_v, marker="square", size=12, color=BLUE)
p2.line([x for s in steady2_t for x in s], [y for s in steady2_v for y in s], color=GREEN, line_width=1.5)
p2.multi_line(steady2_t, steady2_v, color=GREEN, line_width=11)

# ---------- panel 3
p3 = panel(1237, 1018, 103, 57, 63, 92, (4.5, 19.5), (-0.05, 1.05), hours2, [str(v) for v in hours2],
           frac_ticks, frac_labels, "Time of Day (Hour, LST)", "1-minute power (fraction of capacity)", titles[2], 42, 12,
           "2015-01-03-22:02", -27, -28, (5, 0, 0, 0))
p3.line(rise3_t, rise3_v, color=YEL3, line_width=6)
p3.line(fall3_t, fall3_v, color=YEL3, line_width=6)
p3.line(flat3_t, flat3_v, color=YEL, line_width=10)
p3.line(obs3_t, obs3_v, color="white", line_width=2.5)
p3.line(obs3b_t, obs3b_v, color="white", line_width=2.5)
p3.scatter(obs3_t, obs3_v, marker="circle", size=11, color="white")
p3.scatter(obs3b_t, obs3b_v, marker="circle", size=11, color="white")
p3.line(var3_t, var3_v, color=BLUE, line_width=2)
p3.line(var3b_t, var3b_v, color=BLUE, line_width=2)
p3.scatter(var3_t, var3_v, marker="square", size=12, fill_color="black", line_color=BLUE, line_width=2)
p3.scatter(var3b_t, var3b_v, marker="square", size=12, fill_color="black", line_color=BLUE, line_width=2)
p3.line([x for s in steady3_t for x in s], [y for s in steady3_v for y in s], color=GREEN, line_width=1.5)
p3.multi_line(steady3_t, steady3_v, color=GREEN, line_width=14)

# ---------- panel 4
hours4 = list(range(5, 21))
p4 = panel(1242, 1019, 103, 64, 71, 86, (5, 20), (-0.05, 1.05), hours4, [str(v) for v in hours4],
           frac_ticks, frac_labels, "Time of Day (hour, LST)", "Hourly power (average fraction of capacity)", titles[3], 24, 14,
           "2015-01-03-20:47", -29, -34, (32, 28, 0, 0), tfs=46)
p4.line(hour_clear_t, hour_clear, color=YEL2, line_width=2)
p4.scatter(hour_clear_t, hour_clear, marker="circle", size=11, fill_alpha=0, line_color=YEL2, line_width=1.5)
p4.line(hour_obs_t, hour_obs, color="white", line_width=1.5)
p4.scatter(hour_obs_t, hour_obs, marker="circle", size=11, color="white")
p4.line(hour_model_t, hour_steady, color=GREEN, line_width=1.5)
p4.scatter(hour_model_t, hour_steady, marker="square", size=11, fill_alpha=0, line_color=GREEN, line_width=1.5)
p4.line(hour_model_t, hour_var, color=BLUE, line_width=1.5)
p4.scatter(hour_model_t, hour_var, marker="square", size=11, color=BLUE)

# ---------- panel 5
hours5 = list(range(2, 25, 2))
p5 = panel(1238, 1020, 99, 62, 69, 88, (1, 24), (-0.05, 1.05), hours5, [str(v) for v in hours5],
           frac_ticks, frac_labels, "Time of Day (hour, LST)", "Hourly power (5-minute min,max fraction of capacity)", titles[4], 40, 13,
           "2015-01-04-08:52", -27, -34, (29, 0, 0, 0))
p5.line(env_clear_t, env_clear_max, color=YEL2, line_width=2)
p5.scatter(env_clear_t, env_clear_max, marker="circle", size=11, color=YEL)
p5.line(env_clear_t, env_clear_min, color=YEL2, line_width=1.5)
p5.scatter(env_clear_t, env_clear_min, marker="diamond", size=11, fill_alpha=0, line_color=YEL2, line_width=1.5)
p5.line(env_obs_t, env_obs_max, color="white", line_width=1.5)
p5.scatter(env_obs_t, env_obs_max, marker="square", size=11, fill_color="black", line_color="white", line_width=1.5)
p5.line(env_obs_t, env_obs_min, color="white", line_width=1.5)
p5.scatter(env_obs_t, env_obs_min, marker="square", size=12, color="white")
p5.line(env_model_t, env_steady_max, color=GREEN, line_width=1.5)
p5.scatter(env_model_t, env_steady_max, marker="circle", size=11, fill_alpha=0, line_color=GREEN, line_width=1.5)
p5.line(env_model_t, env_steady_min, color=GREEN, line_width=1.5)
p5.scatter(env_model_t, env_steady_min, marker="cross", size=12, line_color=GREEN, line_width=1.5)
p5.line(env_model_t, env_var_max, color=BLUE, line_width=1.5)
p5.scatter(env_model_t, env_var_max, marker="square", size=11, fill_alpha=0, line_color=BLUE, line_width=1.5)
p5.line(env_model_t, env_var_min, color=BLUE, line_width=1.5)
p5.scatter(env_model_t, env_var_min, marker="circle", size=11, color=BLUE)


def sheet(w, h, x0, y0, margin=(0, 0, 0, 0)):
    f = figure(width=w, height=h, x_range=Range1d(x0, x0 + w), y_range=Range1d(y0 + h, y0), output_backend="svg",
               toolbar_location=None, background_fill_color=BG, border_fill_color=BG, outline_line_color=None,
               min_border=0, margin=margin)
    f.axis.visible = False
    f.grid.visible = False
    return f


def words(f, x, ys, lines, size=59.5):
    f.text(x=[x] * len(lines), y=ys, text=lines, text_font=value(TXT_FONT), text_font_size=f"{size}px",
           text_color="#101010", text_baseline="middle", text_align="left")


strip = sheet(35, 924, 0, 0)
words(strip, 0, [506], ["r."])
words(strip, -16, [644], ["r"])

txt = sheet(1187, 1148, 0, 924)
txt.quad(left=[0], right=[106], top=[1110], bottom=[2072], color="white")
txt.quad(left=[0], right=[43], top=[1211], bottom=[2072], color=BG)
words(txt, 0, [957, 1036], upper_lines)
words(txt, 126, [1117 + 76.7 * i for i in range(len(body_lines))], body_lines)

foot = sheet(3763, 24, 0, 2072)
foot.quad(left=[43], right=[106], top=[2072], bottom=[2096], color="white")
words(foot, 126, [2118], [last_line])

colA = column(row(strip, p1), txt)
colB = column(p2, p4)
colC = column(p3, p5)
page = column(row(colA, colB, colC), foot)

html = file_html(page, INLINE)
html = html.replace("<head>", f"<head><style>html,body{{margin:0;padding:0;background:{BG};overflow:hidden}}</style>", 1)
open("out.html", "w").write(html)
